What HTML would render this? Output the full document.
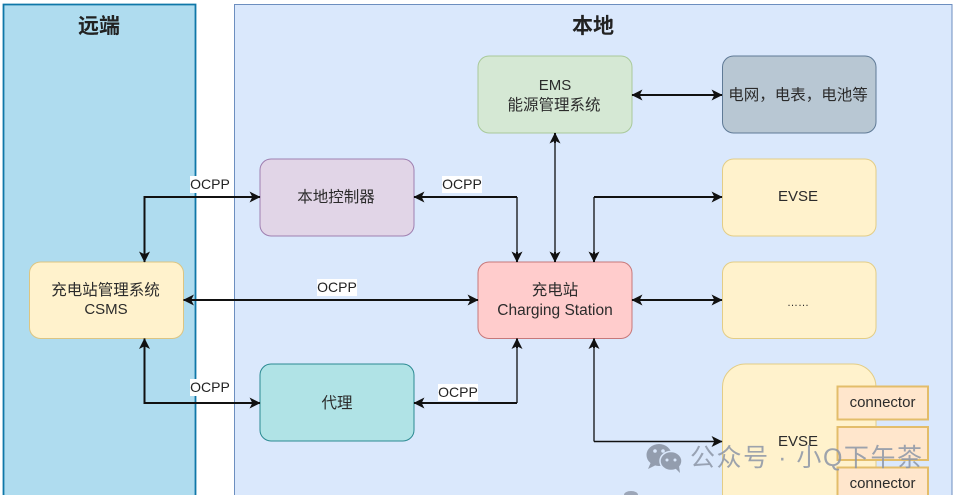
<!DOCTYPE html>
<html><head><meta charset="utf-8"><style>
html,body{margin:0;padding:0;background:#fff;width:953px;height:495px;overflow:hidden}
svg{display:block;font-family:"Liberation Sans","Noto Sans CJK SC",sans-serif;filter:blur(.35px)}
text{fill:#2b2b2b;font-size:15px;text-anchor:middle}
.c{font-size:15.5px}
.ln{fill:none;stroke:#111;stroke-width:2}
.g{fill:none;stroke:#555b63;stroke-width:2}
.l{font-size:14px;fill:#222}
</style></head><body>
<svg width="953" height="495" viewBox="0 0 953 495" xmlns="http://www.w3.org/2000/svg">
<defs>
<marker id="a" viewBox="0 0 10 10" refX="9.5" refY="5" markerWidth="12" markerHeight="11" markerUnits="userSpaceOnUse" orient="auto-start-reverse"><path d="M0 0L10 5L0 10L2.5 5Z" fill="#111"/></marker>
</defs>
<path d="M3.500 495V4.500H195.500V495Z" fill="#afdcef"/>
<path d="M3.500 495V4.500H195.500V495" fill="none" stroke="#0f77a8" stroke-width="1.800"/>
<path d="M234.500 495V4.500H952V495Z" fill="#dae8fc"/>
<path d="M234.500 495V4.500H952V495" fill="none" stroke="#6c8ebf"/>
<text x="99" y="33" style="font-size:21px;font-weight:bold;fill:#222">远端</text>
<text x="593" y="33" style="font-size:21px;font-weight:bold;fill:#222">本地</text>

<rect x="478" y="56" width="154" height="77" rx="11" fill="#d5e8d4" stroke="#a9c99a"/>
<rect x="722.500" y="56" width="153.500" height="77" rx="11" fill="#b8c7d3" stroke="#5f7a96"/>
<rect x="260" y="159" width="154" height="77" rx="11" fill="#e1d5e7" stroke="#9f7fb0"/>
<rect x="722.500" y="159" width="153.500" height="77" rx="11" fill="#fff2cc" stroke="#e3cd86"/>
<rect x="29.500" y="262" width="154" height="76.500" rx="11" fill="#fff2cc" stroke="#dcc582"/>
<rect x="478" y="262" width="154" height="76.500" rx="11" fill="#ffcccc" stroke="#c7787a"/>
<rect x="722.500" y="262" width="153.500" height="76.500" rx="11" fill="#fff2cc" stroke="#e3cd86"/>
<rect x="260" y="364" width="154" height="77" rx="11" fill="#b0e3e6" stroke="#2b8a92"/>
<path d="M722.500 495V387a23 23 0 0 1 23-23H853a23 23 0 0 1 23 23V495Z" fill="#fff2cc"/>
<path d="M722.500 495V387a23 23 0 0 1 23-23H853a23 23 0 0 1 23 23V495" fill="none" stroke="#e3cd86"/>
<rect x="837.500" y="386.500" width="90.500" height="33" fill="#ffe6cc" stroke="#e3bd6a" stroke-width="2"/>
<rect x="837.500" y="427" width="90.500" height="33" fill="#ffe6cc" stroke="#e3bd6a" stroke-width="2"/>
<path d="M837.500 495V467.500H928V495Z" fill="#ffe6cc"/>
<path d="M837.500 495V467.500H928V495" fill="none" stroke="#e3bd6a" stroke-width="2"/>

<path class="ln" d="M260 197H144.500V262" marker-start="url(#a)" marker-end="url(#a)"/>
<path class="ln" d="M260 403H144.500V338.500" marker-start="url(#a)" marker-end="url(#a)"/>
<path class="ln" d="M183.500 300H478" marker-start="url(#a)" marker-end="url(#a)"/>
<path class="ln" d="M632 95H722" marker-start="url(#a)" marker-end="url(#a)"/>
<path class="ln" d="M632 300H722" marker-start="url(#a)" marker-end="url(#a)"/>
<path class="g" d="M517 197V252M517 403V348M555 143V252M594 197V252"/>
<path class="g" d="M594 441.500V348"/>
<path class="ln" d="M414 197H517" marker-start="url(#a)"/>
<path class="ln" d="M517 252V262" marker-end="url(#a)"/>
<path class="ln" d="M414 403H517" marker-start="url(#a)"/>
<path class="ln" d="M517 348V338.500" marker-end="url(#a)"/>
<path class="ln" d="M555 143V133" marker-end="url(#a)"/>
<path class="ln" d="M555 252V262" marker-end="url(#a)"/>
<path class="ln" d="M594 197H722" marker-end="url(#a)"/>
<path class="ln" d="M594 252V262" marker-end="url(#a)"/>
<path class="ln" style="stroke-width:1.500" d="M594 441.500H722" marker-end="url(#a)"/>
<path class="ln" d="M594 348V338.500" marker-end="url(#a)"/>

<rect x="190" y="176" width="40" height="17" fill="#fff"/><text class="l" x="210" y="189">OCPP</text>
<rect x="442" y="176" width="40" height="17" fill="#fff"/><text class="l" x="462" y="189">OCPP</text>
<rect x="317" y="279" width="40" height="17" fill="#fff"/><text class="l" x="337" y="292">OCPP</text>
<rect x="190" y="379" width="40" height="17" fill="#fff"/><text class="l" x="210" y="392">OCPP</text>
<rect x="438" y="384" width="40" height="17" fill="#fff"/><text class="l" x="458" y="397">OCPP</text>

<text x="555" y="90">EMS</text><text class="c" x="554" y="110">能源管理系统</text>
<text class="c" x="798" y="100">电网，电表，电池等</text>
<text class="c" x="336" y="202">本地控制器</text>
<text x="798" y="201">EVSE</text>
<text class="c" x="105.500" y="295">充电站管理系统</text><text x="106" y="314">CSMS</text>
<text class="c" x="555" y="295">充电站</text><text x="555" y="315" style="font-size:15.500px">Charging Station</text>
<text x="798" y="306" style="font-size:11px">……</text>
<text class="c" x="337" y="408">代理</text>
<text x="798" y="446">EVSE</text>
<text x="882.500" y="407" style="font-size:15px">connector</text>
<text x="882.500" y="488" style="font-size:15px">connector</text>

<g fill="#8c95a6" opacity=".9">
<ellipse cx="659" cy="455" rx="12.500" ry="11"/><path d="M651 462l-3 7 8-4z"/>
<ellipse cx="671" cy="461" rx="11" ry="9.500" stroke="#dae8fc" stroke-width="1.500"/><path d="M675 468l5 5-1-7z"/>
</g>
<g fill="#dae8fc"><circle cx="655" cy="451" r="1.800"/><circle cx="663" cy="451" r="1.800"/><circle cx="667" cy="460" r="1.500"/><circle cx="675" cy="460" r="1.500"/></g>
<text x="806" y="466" textLength="232" lengthAdjust="spacing" style="font-size:25px;fill:#8c95a6;fill-opacity:.85">公众号 · 小Q下午茶</text>
<path d="M624 495a7 4 0 0 1 14 0z" fill="#8c95a6" opacity=".8"/>
</svg>
</body></html>
